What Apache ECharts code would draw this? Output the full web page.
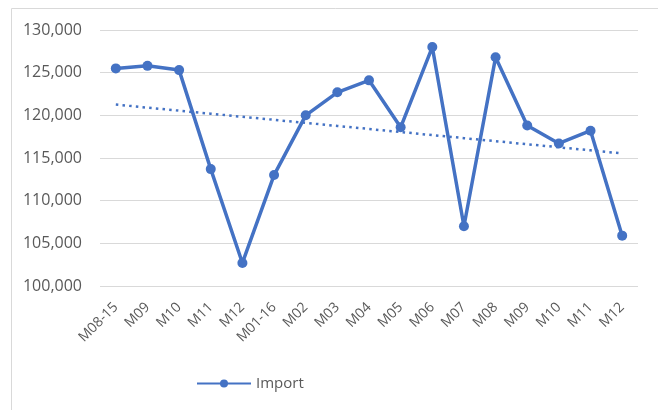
<!DOCTYPE html>
<html>
<head>
<meta charset="utf-8">
<script src="https://cdn.jsdelivr.net/npm/echarts@6/dist/echarts.min.js"></script>
<style>
html,body{margin:0;padding:0;background:#fff;}
#chart{width:658px;height:410px;}
</style>
</head>
<body>
<div id="chart"></div>
<script>
// categories (months)
var months = ['M08-15','M09','M10','M11','M12','M01-16','M02','M03','M04','M05','M06','M07','M08','M09','M10','M11','M12'];
// import values
var imports = [125500,125800,125300,113700,102700,113000,120000,122700,124100,118600,128000,107000,126800,118800,116700,118200,105900];
// y axis range
var yMin = 100000, yMax = 130000, yStep = 5000;

// linear trend line, like excel
function trend(vals){
	var n=vals.length, sx=0, sy=0, sxy=0, sxx=0;
	for(var i=0;i<n;i++){ sx+=i; sy+=vals[i]; sxy+=i*vals[i]; sxx+=i*i; }
	var b=(n*sxy-sx*sy)/(n*sxx-sx*sx);
	var a=(sy-b*sx)/n;
	var out=[];
	for(var j=0;j<n;j++){ out.push(a+b*j); }
	return out;
}

var myChart = echarts.init(document.getElementById('chart'));
var option = {
	animation:false,
	//chart border
	graphic:[{
		type:'rect', shape:{x:11.5,y:8.5,width:660,height:420},
		style:{fill:'none',stroke:'#d9d9d9',lineWidth:1}, silent:true
	}],
	grid:{left:100,right:20,top:30,bottom:124},
	legend:{
		data:['Import'], top:371, left:191,
		itemWidth:54, itemHeight:10, itemGap:6,
		textStyle:{color:'#595959',fontSize:15,fontFamily:'Open Sans'}
	},
	xAxis:{
		type:'category', data:months, boundaryGap:true,
		axisLine:{show:false}, axisTick:{show:false},
		axisLabel:{rotate:45, color:'#595959', fontSize:14, fontFamily:'Open Sans', interval:0, margin:19}
	},
	yAxis:{
		type:'value', min:yMin, max:yMax, interval:yStep,
		axisLine:{show:false}, axisTick:{show:false},
		splitLine:{lineStyle:{color:'#d9d9d9',width:1}},
		axisLabel:{color:'#595959', fontSize:16, fontFamily:'Open Sans', margin:18,
			formatter:function(v){ return v.toLocaleString('en-US'); }}
	},
	series:[{
		name:'Import', type:'line', data:imports,
		symbol:'circle', symbolSize:10,
		lineStyle:{color:'#4472C4',width:3.5},
		itemStyle:{color:'#4472C4'}
	},{
		name:'Trend', type:'line', data:trend(imports),
		symbol:'none', z:1,
		lineStyle:{color:'#4472C4',width:2.5,type:[2.5,4.2]}
	}]
};
myChart.setOption(option);
</script>
</body>
</html>
